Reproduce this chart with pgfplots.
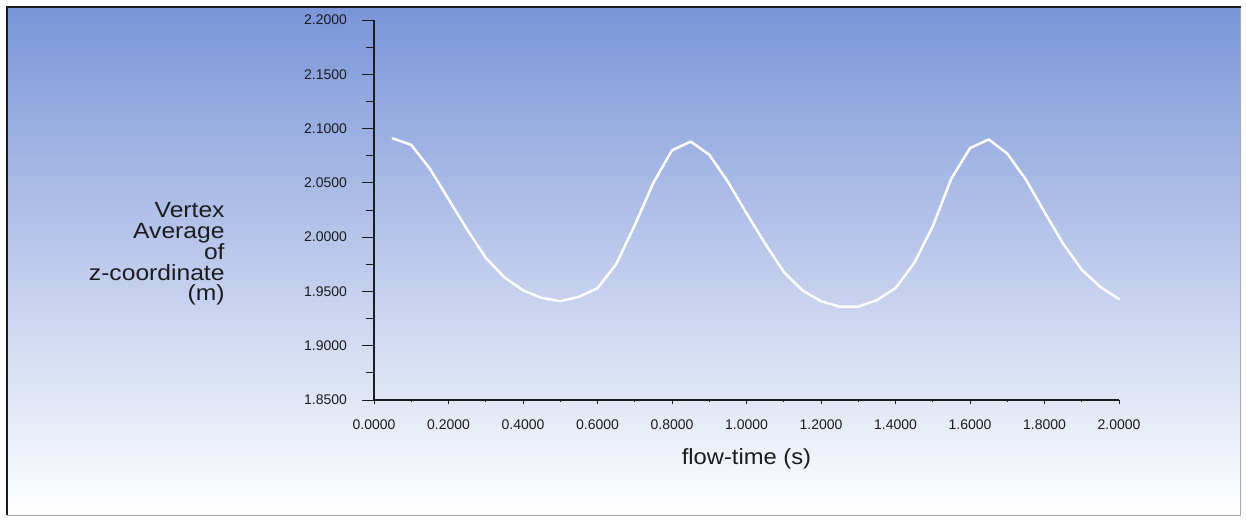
\documentclass[border=0pt]{standalone}
\usepackage{fontspec}
\setmainfont{Liberation Sans}
\usepackage{pgfplots}
\pgfplotsset{compat=1.18}
\definecolor{bgtop}{RGB}{122,149,216}
\definecolor{bgmid}{RGB}{182,194,232}
\definecolor{inkc}{RGB}{28,28,32}
\pgfplotsset{
  flowbase/.style={
    at={(187pt,60.5pt)}, anchor=south west,
    scale only axis,
    width=372.5pt, height=190pt,
    xmin=0, xmax=2, ymin=1.85, ymax=2.2,
    axis line style={inkc, line width=0.7pt},
    xtick={0,0.2,...,2.01}, ytick={1.85,1.9,...,2.21},
    minor x tick num=1, minor y tick num=1,
    tick align=outside,
    tick style={inkc, line width=0.5pt},
    ticklabel style={font=\fontsize{7}{8}\selectfont, text=inkc},
    /pgf/number format/assume math mode=true,
    /pgf/number format/.cd, fixed, fixed zerofill, precision=4, /pgfplots/.cd,
    clip=false,
  }
}
\begin{document}
\begin{tikzpicture}[x=1pt,y=1pt]
% page and gradient panel (1 px = 0.5 pt)
\fill[white] (0,0) rectangle (623,260.5);
\shade[top color=bgtop, middle color=bgmid, bottom color=white] (3.5,3) rectangle (620.3,257);
\draw[black!35, line width=0.4pt] (620.3,257) -- (620.3,3) -- (3.5,3);
\draw[inkc, line width=0.8pt] (3.5,3) -- (3.5,257) -- (620.3,257);
% y axis (longer ticks)
\begin{axis}[
    flowbase,
    axis x line=none, axis y line*=left,
    major tick length=6pt, minor tick length=3.8pt,
    yticklabel shift=4pt,
    every axis y label/.style={at={(axis description cs:0,0)}, anchor=east, align=right,
        inner sep=0pt, xshift=-74.5pt, yshift=73pt,
        font=\fontsize{11}{10.4}\selectfont, text=inkc, xscale=1.12},
    ylabel={Vertex\\Average\\of\\z-coordinate\\(m)},
]
\end{axis}
% x axis and the curve
\begin{axis}[
    flowbase,
    axis x line*=bottom, axis y line=none,
    major tick length=2.2pt, minor tick length=1.2pt,
    xticklabel shift=4pt,
    every axis x label/.style={at={(axis description cs:0.5,0)}, anchor=base, yshift=-32pt,
        font=\fontsize{11}{12}\selectfont, text=inkc, xscale=1.08},
    xlabel={flow-time (s)},
]
\addplot[white, line width=1.25pt, line join=round, line cap=round] coordinates {
    (0.05,2.091) (0.10,2.085) (0.15,2.063) (0.20,2.035) (0.25,2.007)
    (0.30,1.981) (0.35,1.963) (0.40,1.951) (0.45,1.944) (0.50,1.941)
    (0.55,1.945) (0.60,1.953) (0.65,1.975) (0.70,2.011) (0.75,2.050)
    (0.80,2.080) (0.85,2.088) (0.90,2.076) (0.95,2.051) (1.00,2.022)
    (1.05,1.994) (1.10,1.968) (1.15,1.951) (1.20,1.941) (1.25,1.936)
    (1.30,1.936) (1.35,1.942) (1.40,1.953) (1.45,1.976) (1.50,2.010)
    (1.55,2.054) (1.60,2.082) (1.65,2.090) (1.70,2.077) (1.75,2.053)
    (1.80,2.023) (1.85,1.994) (1.90,1.970) (1.95,1.954) (2.00,1.943)
};
\end{axis}
\end{tikzpicture}
\end{document}
